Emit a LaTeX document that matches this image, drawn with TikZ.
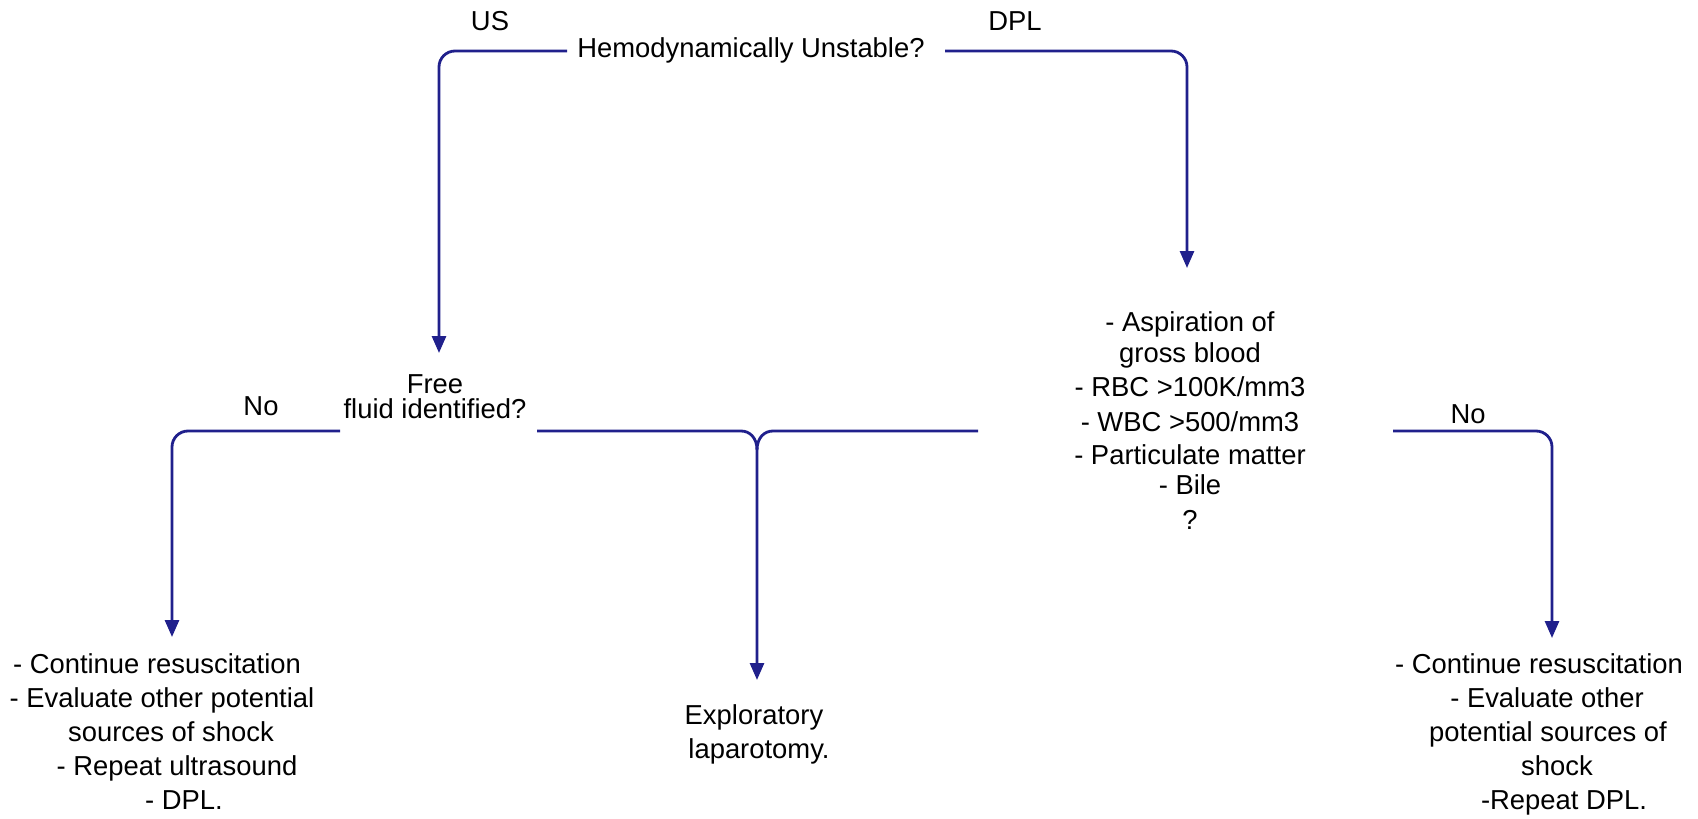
\documentclass[tikz,border=0pt]{standalone}
\usepackage{fontspec}
\setmainfont{Liberation Sans}
\usetikzlibrary{arrows.meta}
\definecolor{flowblue}{RGB}{32,32,140}
\newcommand\dgfont{\fontsize{13.7pt}{17pt}\selectfont}
\begin{document}
\begin{tikzpicture}[x=0.5pt,y=-0.5pt,
  flow/.style={draw=flowblue, line width=1.4pt, rounded corners=8pt},
  flowsharp/.style={draw=flowblue, line width=1.4pt},
  arr/.style={-{Triangle[length=8.5pt,width=7pt]}},
  txt/.style={font=\dgfont, align=center, inner sep=0pt, text=black}]
\fill[white] (0,0) rectangle (1698,819);
\useasboundingbox (0,0) rectangle (1698,819);

% texts
\node[txt, anchor=base] (us) at (490,31) {US};
\node[txt, anchor=base] (dpl) at (1015,31) {DPL};
\node[txt, anchor=base] (hemo) at (751,57) {Hemodynamically Unstable?};
\node[txt, anchor=base] (noL) at (261,415) {No};
\node[txt, anchor=base] (noR) at (1468,423) {No};
\node[txt, font=\fontsize{13.7pt}{12.5pt}\selectfont] (fluid) at (435,397) {Free\\fluid identified?};
\node[txt, font=\fontsize{13.7pt}{16.5pt}\selectfont] (dplres) at (1190,421)
  {- Aspiration of\\[-1pt] gross blood\\[0.5pt] - RBC >100K/mm3\\[1pt] - WBC >500/mm3\\ - Particulate matter\\[-1.5pt] - Bile\\[1pt] ?};
\node[txt] (resL) at (162,732)
  {- Continue resuscitation\hspace*{5pt}\\ - Evaluate other potential\\ \hspace*{9pt}sources of shock\\ \hspace*{15pt}- Repeat ultrasound\\ \hspace*{22pt}- DPL.};
\node[txt] (expl) at (759,734) {Exploratory\hspace*{5pt}\\ laparotomy.};
\node[txt] (resR) at (1539,734)
  {- Continue resuscitation\\ \hspace*{8pt}- Evaluate other\\ \hspace*{9pt}potential sources of\\ \hspace*{18pt}shock\\ \hspace*{25pt}-Repeat DPL.};

% connector end points
\coordinate (hemoW) at (567,51);
\coordinate (hemoE) at (945,51);
\coordinate (fluidN) at (439,353);
\coordinate (dplN) at (1187,268);
\coordinate (fluidW) at (340,431);
\coordinate (fluidE) at (537,431);
\coordinate (resLN) at (172,637);
\coordinate (join) at (757,450);
\coordinate (explN) at (757,680);
\coordinate (dplW) at (978,431);
\coordinate (dplE) at (1393,431);
\coordinate (resRN) at (1552,638);

% connectors
\draw[flow,arr] (hemoW) -| (fluidN);
\draw[flow,arr] (hemoE) -| (dplN);
\draw[flow,arr] (fluidW) -| (resLN);
\draw[flowsharp,arr] (fluidE) -- (741,431) .. controls (750,431) and (757,438) .. (join) -- (explN);
\draw[flowsharp] (dplW) -- (773,431) .. controls (764,431) and (757,438) .. (join);
\draw[flow,arr] (dplE) -| (resRN);
\end{tikzpicture}
\end{document}
